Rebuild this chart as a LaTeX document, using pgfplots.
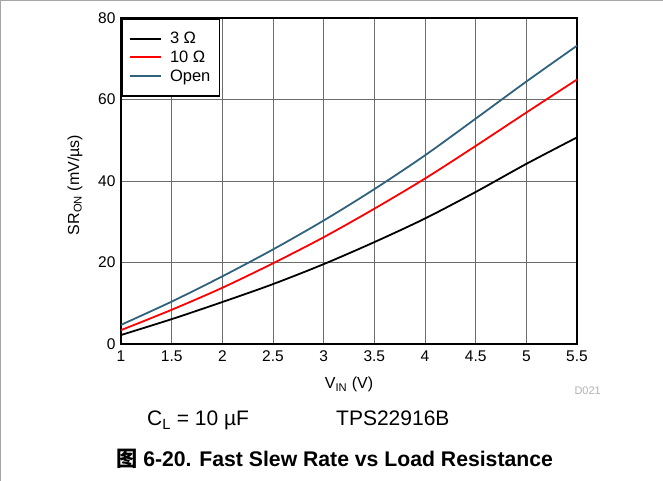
\documentclass[border=0pt]{standalone}
\usepackage{pgfplots}
\pgfplotsset{compat=1.18}
\usepackage{fontspec}
\setmainfont{Liberation Sans}
\newfontfamily\cjk{Noto Sans CJK SC}
\definecolor{openc}{RGB}{47,98,125}
\pgfplotstableread{
x    r3    r10   open
1.0  2.2   3.4   4.7
1.5  6.1   8.4   10.4
2.0  10.3  13.8  16.6
2.5  14.7  19.8  23.2
3.0  19.6  26.2  30.3
3.5  25.0  33.2  38.0
4.0  30.8  40.6  46.3
4.5  37.3  48.6  55.3
5.0  44.2  56.8  64.4
5.5  50.7  64.9  73.2
}\datatable
\begin{document}
\begin{tikzpicture}
\useasboundingbox (0pt,0pt) rectangle (663pt,481pt);
\draw[gray!70, line width=1.2pt] (0.6pt,0pt) -- (0.6pt,480.4pt) -- (663pt,480.4pt);
\begin{axis}[
  at={(121pt,137pt)}, anchor=south west,
  scale only axis, width=456pt, height=326pt,
  xmin=1, xmax=5.5, ymin=0, ymax=80,
  xtick={1,1.5,2,2.5,3,3.5,4,4.5,5,5.5},
  ytick={0,20,40,60,80},
  grid=major,
  grid style={gray!85!black, line width=0.8pt},
  axis line style={line width=2.2pt},
  major tick length=0pt,
  /pgf/number format/assume math mode=true,
  ticklabel style={font=\fontsize{15.5}{18}\selectfont},
  xticklabel style={yshift=-3pt},
  yticklabel style={xshift=-2pt},
  legend style={at={(0,1)}, anchor=north west, draw=black, line width=1.6pt,
    font=\fontsize{16.5}{19}\selectfont, inner xsep=7pt, inner ysep=11pt,
    nodes={inner sep=2.2pt}, row sep=1.5pt, column sep=6pt,
    cells={anchor=west}},
  legend image code/.code={\draw[#1, line width=2pt] (0pt,0pt) -- (31pt,0pt);},
  every axis plot/.append style={line width=1.8pt, smooth},
]
\addplot[black] table[x=x, y=r3] {\datatable};
\addlegendentry{3 Ω}
\addplot[red] table[x=x, y=r10] {\datatable};
\addlegendentry{10 Ω}
\addplot[openc] table[x=x, y=open] {\datatable};
\addlegendentry{Open}
\end{axis}
\node[anchor=base, font=\fontsize{16}{19}\selectfont] at (349pt,92pt) {V\textsubscript{IN} (V)};
\node[anchor=center, rotate=90, font=\fontsize{16}{19}\selectfont] at (75pt,296pt) {SR\textsubscript{ON} (mV/µs)};
\node[anchor=base west, font=\fontsize{11}{13}\selectfont, text=gray!60] at (571pt,86pt) {D021};
\node[anchor=base west, font=\fontsize{21}{24}\selectfont, inner sep=0pt] at (147pt,55pt) {C\textsubscript{L} = 10 µF};
\node[anchor=base west, font=\fontsize{21}{24}\selectfont, inner sep=0pt] at (336pt,55pt) {TPS22916B};
\node[anchor=base west, font=\fontsize{21.2}{24}\selectfont\bfseries, inner sep=0pt] at (116pt,14pt) {{\cjk 图} 6-20. Fast Slew Rate vs Load Resistance};
\end{tikzpicture}
\end{document}
